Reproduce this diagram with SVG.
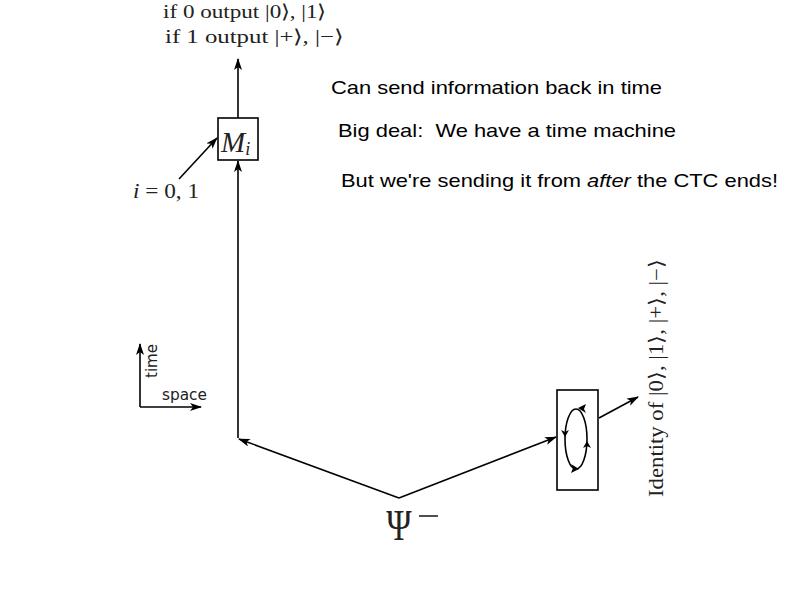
<svg xmlns="http://www.w3.org/2000/svg" width="794" height="595" viewBox="0 0 794 595">
<style>
.ln{stroke:#000;stroke-width:1.6;fill:none}
.tx{font-family:"Liberation Serif","Times New Roman",serif;fill:#222}
.sn{font-family:"Liberation Sans",Arial,sans-serif;fill:#000;font-size:19px}
.dv{font-family:"DejaVu Sans",sans-serif;fill:#222;font-size:15px}
</style>
<defs>
<marker id="ah" viewBox="0 0 12 8" refX="11" refY="4" markerWidth="12" markerHeight="8" markerUnits="userSpaceOnUse" orient="auto">
<path d="M0,0 L12,4 L0,8 L3,4 z" fill="#000"/>
</marker>
</defs>
<rect width="794" height="595" fill="#fff"/>
<g id="connectors">
<line class="ln" x1="238" y1="118" x2="238" y2="59" marker-end="url(#ah)"/>
<line class="ln" x1="238" y1="438" x2="238" y2="161" marker-end="url(#ah)"/>
<line class="ln" x1="179" y1="179" x2="217" y2="138" marker-end="url(#ah)"/>
<line class="ln" x1="399" y1="498" x2="239" y2="439" marker-end="url(#ah)"/>
<line class="ln" x1="399" y1="498" x2="556" y2="437" marker-end="url(#ah)"/>
<line class="ln" x1="599" y1="418" x2="638" y2="397" marker-end="url(#ah)"/>
</g>
<g id="top-label">
<text class="tx" x="163" y="18" font-size="19" textLength="163" lengthAdjust="spacingAndGlyphs">if 0 output |0⟩, |1⟩</text>
<text class="tx" x="165" y="43" font-size="19" textLength="178" lengthAdjust="spacingAndGlyphs">if 1 output |+⟩, |−⟩</text>
</g>
<g id="node-M">
<rect x="218" y="118" width="40" height="42" fill="#fff" stroke="#000" stroke-width="1.6"/>
<text class="tx" x="221" y="152" font-size="29" font-style="italic">M<tspan font-size="18" dy="3">i</tspan></text>
</g>
<g id="label-i">
<text class="tx" x="133" y="198" font-size="21" textLength="66" lengthAdjust="spacingAndGlyphs"><tspan font-style="italic">i</tspan> = 0, 1</text>
</g>
<g id="axes">
<line class="ln" x1="140" y1="407" x2="140" y2="344" marker-end="url(#ah)"/>
<line class="ln" x1="140" y1="407" x2="201" y2="407" marker-end="url(#ah)"/>
<text class="dv" transform="translate(157,378) rotate(-90)" textLength="34" lengthAdjust="spacingAndGlyphs">time</text>
<text class="dv" x="162" y="400" textLength="45" lengthAdjust="spacingAndGlyphs">space</text>
</g>
<g id="node-psi">
<text class="tx" transform="translate(399,540) scale(0.78,1)" font-size="44" text-anchor="middle">Ψ</text>
<line x1="419" y1="516" x2="438" y2="516" stroke="#222" stroke-width="1.6"/>
</g>
<g id="node-ctc">
<rect x="557" y="390" width="41" height="100" fill="#fff" stroke="#000" stroke-width="1.6"/>
<ellipse cx="576" cy="439" rx="11" ry="30" class="ln"/>
<path d="M578,408 L586,404 L584,409 L586,413 z" fill="#000"/>
<path d="M565,437 L561,430 L565,432 L569,430 z" fill="#000"/>
<path d="M579,469 L571,473 L573,468 L571,464 z" fill="#000"/>
<path d="M587,441 L591,448 L587,446 L583,448 z" fill="#000"/>
</g>
<g id="identity-label">
<text class="tx" transform="translate(663,497) rotate(-90)" font-size="20" textLength="238" lengthAdjust="spacingAndGlyphs">Identity of |0⟩, |1⟩, |+⟩, |−⟩</text>
</g>
<g id="notes">
<text class="sn" x="331" y="94" textLength="331" lengthAdjust="spacingAndGlyphs">Can send information back in time</text>
<text class="sn" x="338" y="137" textLength="338" lengthAdjust="spacingAndGlyphs" xml:space="preserve">Big deal:  We have a time machine</text>
<text class="sn" x="341" y="187" textLength="437" lengthAdjust="spacingAndGlyphs">But we're sending it from <tspan font-style="italic">after</tspan> the CTC ends!</text>
</g>
</svg>
